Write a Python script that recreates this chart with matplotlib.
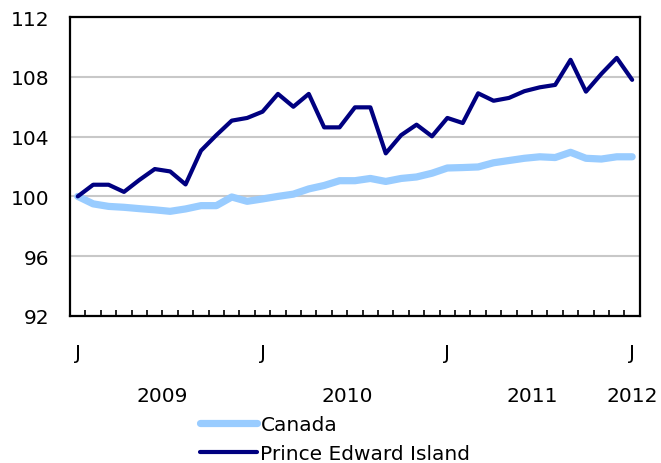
import numpy as np
import matplotlib
matplotlib.use('Agg')
import matplotlib.pyplot as plt

# monthly index, Jan 2009 = 100
canada = [100.0, 99.5, 99.33, 99.27, 99.18, 99.1, 99.0, 99.16, 99.38, 99.38,
          99.96, 99.67, 99.83, 100.0, 100.15, 100.5, 100.73, 101.05, 101.05, 101.2,
          101.0, 101.2, 101.3, 101.55, 101.9, 101.93, 101.97, 102.25, 102.4, 102.55,
          102.65, 102.6, 102.95, 102.55, 102.5, 102.65, 102.65]
pei = [100.0, 100.78, 100.78, 100.3, 101.1, 101.83, 101.67, 100.8, 103.06, 104.1,
       105.07, 105.25, 105.67, 106.86, 106.0, 106.86, 104.62, 104.62, 105.96, 105.96,
       102.88, 104.1, 104.8, 104.02, 105.25, 104.91, 106.9, 106.4, 106.59, 107.04,
       107.3, 107.46, 109.14, 107.01, 108.2, 109.27, 107.8]
month_labels = ['J', 'J', 'J', 'J']
month_pos = [0, 12, 24, 36]
years = ['2009', '2010', '2011', '2012']
year_pos = [5.5, 17.5, 29.5, 36]
yticks = [92, 96, 100, 104, 108, 112]

FS = 14.5
plt.rcParams['font.family'] = 'DejaVu Sans'
fig = plt.figure(figsize=(6.61, 4.64), dpi=100)
ax = fig.add_axes([0.106, 0.317, 0.862, 0.644])

x = np.arange(len(canada))
ax.plot(x, canada, color='#99ccff', lw=5.2, solid_capstyle='round', label='Canada')
ax.plot(x, pei, color='#000080', lw=3, solid_capstyle='round', label='Prince Edward Island')

ax.set_xlim(-0.5, len(canada) - 0.5)
ax.set_ylim(92, 112)
ax.set_yticks(yticks)
ax.set_yticklabels([str(v) for v in yticks], fontsize=FS)
ax.tick_params(axis='y', length=0, pad=15)
ax.grid(axis='y', color='#c8c8c8', lw=1.5)
ax.set_axisbelow(True)
for s in ax.spines.values():
    s.set_linewidth(1.6)
    s.set_color('black')

ax.set_xticks(np.arange(0.5, len(canada) - 1, 1))
ax.set_xticklabels([])
ax.tick_params(axis='x', direction='in', length=4, width=1.2)

for p, lab in zip(month_pos, month_labels):
    ax.text(p, -0.124, lab, transform=ax.get_xaxis_transform(), ha='center', va='center', fontsize=FS)
for p, lab in zip(year_pos, years):
    ax.text(p, -0.265, lab, transform=ax.get_xaxis_transform(), ha='center', va='center', fontsize=FS)

fig.legend(loc='upper left', bbox_to_anchor=(0.3026, 0.103), frameon=False, fontsize=FS,
           handlelength=2.85, handletextpad=0.15, labelspacing=0.48, borderaxespad=0, borderpad=0)

fig.savefig('out.png', dpi=100)
